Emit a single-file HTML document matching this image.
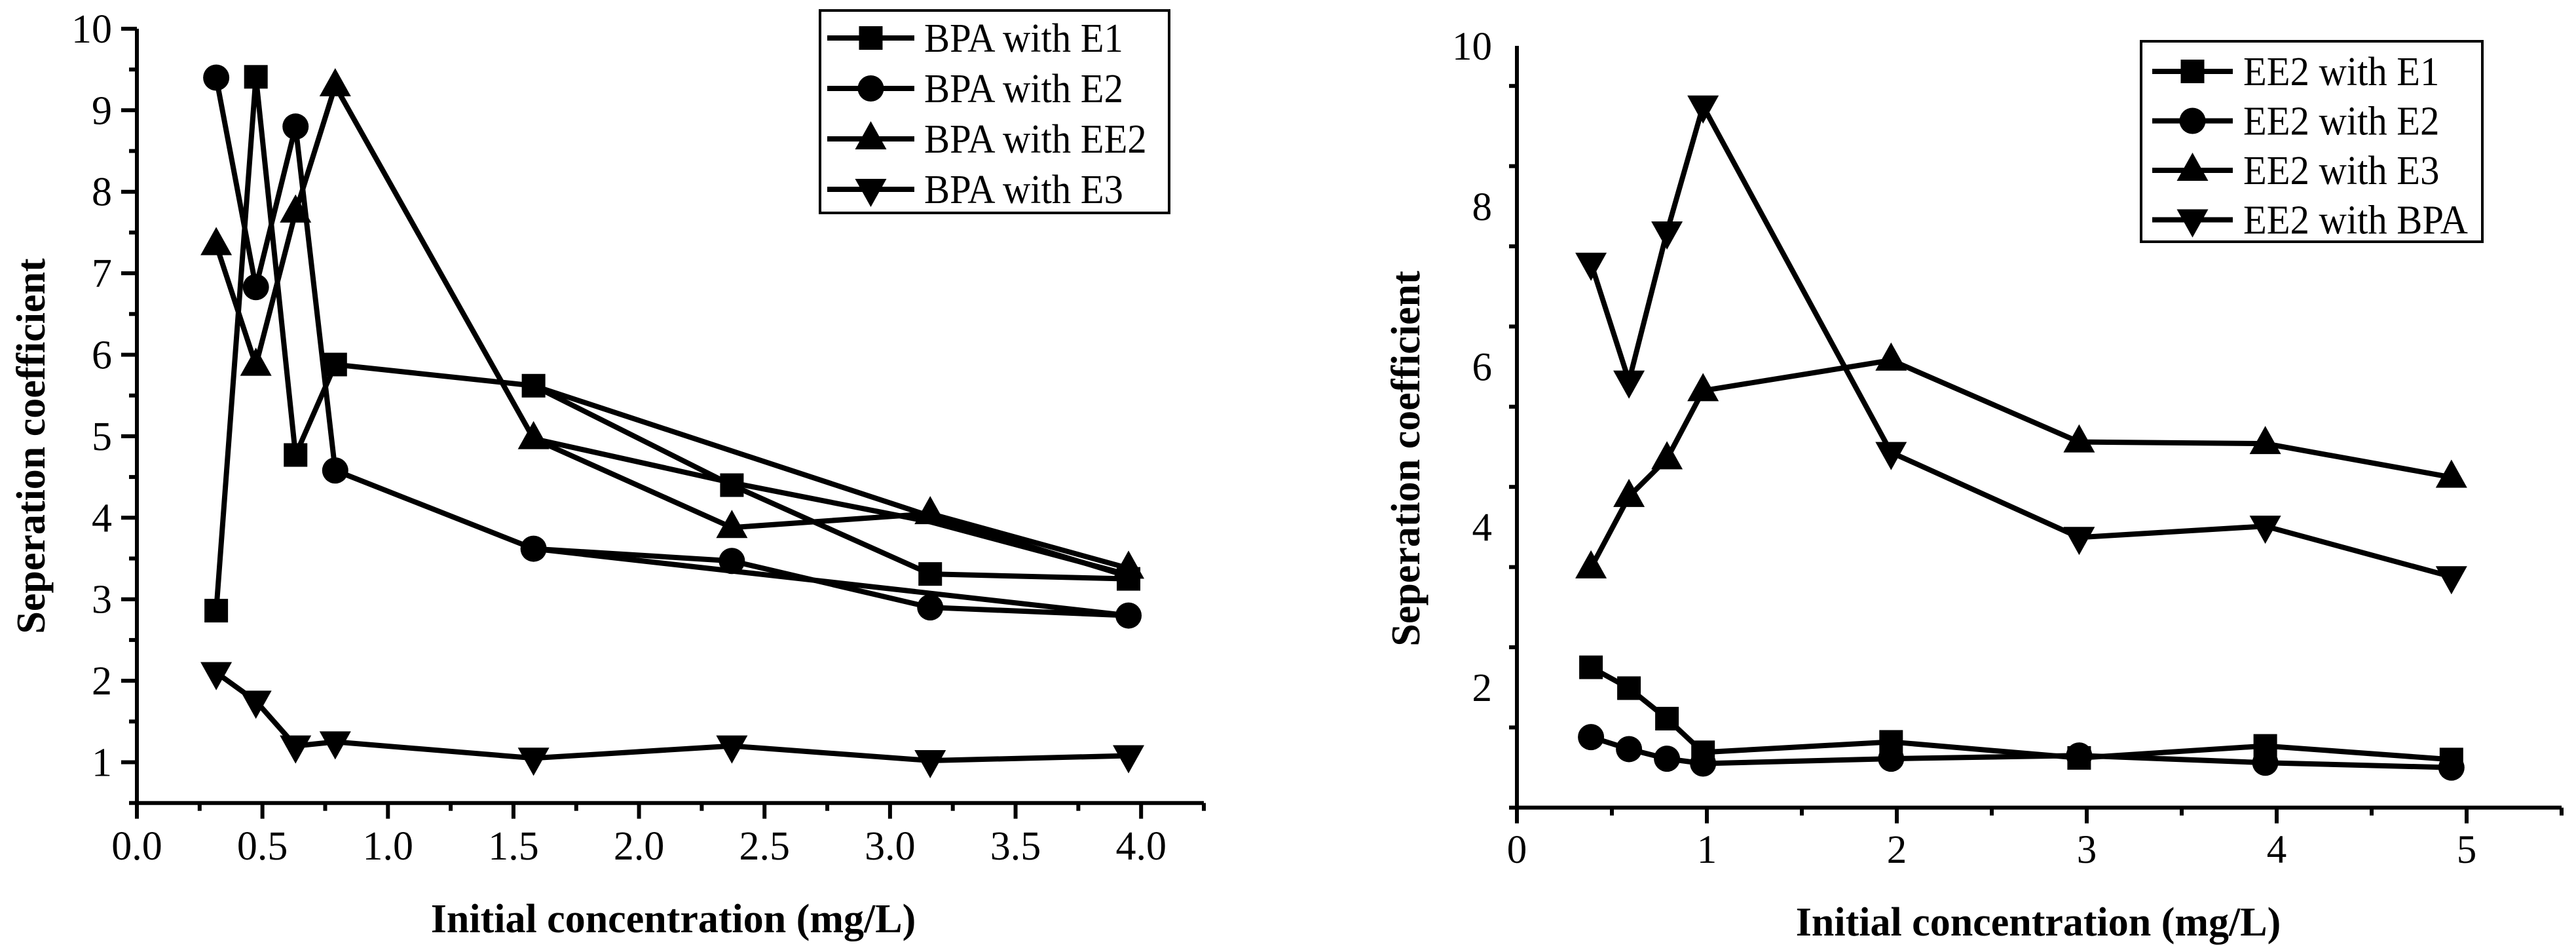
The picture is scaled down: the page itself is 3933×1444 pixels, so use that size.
<!DOCTYPE html>
<html><head><meta charset="utf-8">
<style>
html,body{margin:0;padding:0;background:#fff;}
svg{display:block;}
text{font-family:"Liberation Serif","DejaVu Serif",serif;fill:#000;}
</style></head>
<body>
<svg id="fig" width="3933" height="1444" viewBox="0 0 3933 1444" xmlns="http://www.w3.org/2000/svg">
<g id="left"></g>
<g id="right"></g>
</svg>
<script>
// ---- Left chart data (BPA) ----
const leftX = [0.316, 0.474, 0.632, 0.79, 1.58, 2.37, 3.16, 3.95];
const bpaE1 = [2.86, 9.41, 4.77, 5.88, 5.62, 4.40, 3.31, 3.25];
const bpaE2 = [9.40, 6.83, 8.80, 4.58, 3.62, 3.47, 2.90, 2.80];
const bpaEE2 = [7.35, 5.87, 7.75, 9.30, 4.97, 3.88, 4.05, 3.38];
const bpaE3 = [2.10, 1.75, 1.20, 1.25, 1.05, 1.20, 1.02, 1.08];
const ghost1X = [1.58, 3.16, 3.95];
const ghost1Y = [5.62, 4.02, 3.28];
const ghost2X = [1.58, 2.37, 3.16, 3.95];
const ghost2Y = [4.97, 4.43, 3.95, 3.30];
const ghost3X = [1.58, 3.95];
const ghost3Y = [3.62, 2.80];
const leftXTicks = ["0.0","0.5","1.0","1.5","2.0","2.5","3.0","3.5","4.0"];
const leftYTicks = ["1","2","3","4","5","6","7","8","9","10"];
const leftLegend = ["BPA with E1","BPA with E2","BPA with EE2","BPA with E3"];

// ---- Right chart data (EE2) ----
const rightX = [0.39, 0.59, 0.79, 0.98, 1.97, 2.96, 3.94, 4.92];
const ee2E1 = [2.25, 1.99, 1.61, 1.19, 1.32, 1.12, 1.27, 1.10];
const ee2E2 = [1.38, 1.23, 1.11, 1.05, 1.11, 1.15, 1.06, 1.00];
const ee2E3 = [3.49, 4.38, 4.85, 5.70, 6.08, 5.06, 5.04, 4.62];
const ee2BPA = [7.29, 5.82, 7.68, 9.25, 4.93, 3.87, 4.01, 3.38];
const rightXTicks = ["0","1","2","3","4","5"];
const rightYTicks = ["2","4","6","8","10"];
const rightLegend = ["EE2 with E1","EE2 with E2","EE2 with E3","EE2 with BPA"];

const NS = "http://www.w3.org/2000/svg";
function mk(parent, tag, attrs){
  const e = document.createElementNS(NS, tag);
  for (const k in attrs) e.setAttribute(k, attrs[k]);
  parent.appendChild(e);
  return e;
}
function marker(g, kind, cx, cy){
  let e;
  if (kind === "square") e = mk(g, "rect", {x:cx-18, y:cy-18, width:36, height:36, fill:"#000"});
  else if (kind === "circle") e = mk(g, "circle", {cx:cx, cy:cy, r:20, fill:"#000"});
  else if (kind === "up") e = mk(g, "polygon", {points:`${cx-24},${cy+16} ${cx+24},${cy+16} ${cx},${cy-27}`, fill:"#000"});
  else e = mk(g, "polygon", {points:`${cx-24},${cy-16} ${cx+24},${cy-16} ${cx},${cy+27}`, fill:"#000"});
  
  
  return e;
}

function drawChart(g, cfg){
  const sx = v => cfg.x0 + (v - 0) * cfg.pxX;
  const sy = v => cfg.yTop + (10 - v) * cfg.pxY;
  const yBot = sy(cfg.yMin);
  const ya = mk(g, "line", {x1:cfg.x0, y1:sy(10), x2:cfg.x0, y2:yBot+3, stroke:"#000", "stroke-width":6});
  
  
  const xa = mk(g, "line", {x1:cfg.x0-3, y1:yBot, x2:sx(cfg.xMax), y2:yBot, stroke:"#000", "stroke-width":6});
  
  
  for (let v = cfg.yMin; v <= 10.001; v += cfg.yMinorStep){
    const isMajor = Math.abs((v / cfg.yMajorStep) - Math.round(v / cfg.yMajorStep)) < 1e-6 && v >= cfg.yMajorStart - 1e-6;
    const len = isMajor ? 24 : 12;
    const t = mk(g, "line", {x1:cfg.x0-len, y1:sy(v), x2:cfg.x0, y2:sy(v), stroke:"#000", "stroke-width":6});
    
    
  }
  cfg.yTicks.forEach(lbl => {
    const v = parseFloat(lbl);
    const t = mk(g, "text", {x:cfg.yLabelRight, y:sy(v)+21, "font-size":cfg.fs, "text-anchor":"end"});
    t.textContent = lbl;
    
    
  });
  for (let v = 0; v <= cfg.xMax + 1e-6; v += cfg.xMinorStep){
    const isMajor = Math.abs(v / cfg.xMajorStep - Math.round(v / cfg.xMajorStep)) < 1e-6;
    const len = isMajor ? 24 : 12;
    const t = mk(g, "line", {x1:sx(v), y1:yBot, x2:sx(v), y2:yBot+len, stroke:"#000", "stroke-width":6});
    
    
  }
  cfg.xTicks.forEach(lbl => {
    const v = parseFloat(lbl);
    const t = mk(g, "text", {x:sx(v), y:cfg.xLabelBase, "font-size":cfg.fs, "text-anchor":"middle"});
    t.textContent = lbl;
    
    
  });
  const xt = mk(g, "text", {x:cfg.xTitleX, y:cfg.xTitleY, "font-size":62, "font-weight":"bold", "text-anchor":"middle"});
  xt.textContent = "Initial concentration (mg/L)";
  
  
  const yt = mk(g, "text", {x:0, y:0, "font-size":62, "font-weight":"bold", "text-anchor":"middle", transform:`translate(${cfg.yTitleX},${cfg.yTitleY}) rotate(-90)`});
  yt.textContent = "Seperation coefficient";
  
  
  (cfg.ghosts || []).forEach(gh => {
    const p = mk(g, "polyline", {points: gh[0].map((x,i)=>`${sx(x)},${sy(gh[1][i])}`).join(" "), fill:"none", stroke:"#000", "stroke-width":8, "stroke-linejoin":"round"});
    
    
  });
  cfg.series.forEach((s, si) => {
    const sg = mk(g, "g", {});
    
    
    const p = mk(sg, "polyline", {points: cfg.xs.map((x,i)=>`${sx(x)},${sy(s.ys[i])}`).join(" "), fill:"none", stroke:"#000", "stroke-width":8, "stroke-linejoin":"round"});
    
    
    cfg.xs.forEach((x,i) => marker(sg, s.kind, sx(x), sy(s.ys[i])));
  });
  const L = cfg.legend;
  const lg = mk(g, "g", {});
  
  
  const box = mk(lg, "rect", {x:L.x, y:L.y, width:L.w, height:L.h, fill:"#fff", stroke:"#000", "stroke-width":4});
  
  
  cfg.series.forEach((s, i) => {
    const cy = L.row0 + i * L.rowStep;
    const eg = mk(lg, "g", {});
    
    
    mk(eg, "line", {x1:L.lx1, y1:cy, x2:L.lx2, y2:cy, stroke:"#000", "stroke-width":8});
    marker(eg, s.kind, (L.lx1+L.lx2)/2, cy);
    const t = mk(eg, "text", {x:0, y:0, "font-size":63, transform:`translate(${L.tx},${cy+21}) scale(0.93,1)`});
    t.textContent = cfg.legendLabels[i];
    
    
  });
}

drawChart(document.getElementById("left"), {
  x0:209, pxX:383.3, yTop:43.9, pxY:124.4, yMin:0.5, xMax:4.25,
  yMinorStep:0.5, yMajorStep:1, yMajorStart:1, xMinorStep:0.25, xMajorStep:0.5,
  yTicks:leftYTicks, xTicks:leftXTicks, fs:62, yLabelRight:171, xLabelBase:1312,
  xTitleX:1028, xTitleY:1423, yTitleX:68, yTitleY:681,
  xs:leftX,
  series:[{name:"BPA with E1",ys:bpaE1,kind:"square"},{name:"BPA with E2",ys:bpaE2,kind:"circle"},{name:"BPA with EE2",ys:bpaEE2,kind:"up"},{name:"BPA with E3",ys:bpaE3,kind:"down"}],
  ghosts:[[ghost1X,ghost1Y],[ghost2X,ghost2Y],[ghost3X,ghost3Y]],
  legendLabels:leftLegend,
  legend:{x:1252,y:16,w:533,h:309,row0:58,rowStep:77,lx1:1263,lx2:1396,tx:1411}
});
drawChart(document.getElementById("right"), {
  x0:2316, pxX:290, yTop:70, pxY:122.4, yMin:0.5, xMax:5.5,
  yMinorStep:1, yMajorStep:2, yMajorStart:2, xMinorStep:0.5, xMajorStep:1,
  yTicks:rightYTicks, xTicks:rightXTicks, fs:61, yLabelRight:2278, xLabelBase:1317,
  xTitleX:3112, xTitleY:1428, yTitleX:2167, yTitleY:700,
  xs:rightX,
  series:[{name:"EE2 with E1",ys:ee2E1,kind:"square"},{name:"EE2 with E2",ys:ee2E2,kind:"circle"},{name:"EE2 with E3",ys:ee2E3,kind:"up"},{name:"EE2 with BPA",ys:ee2BPA,kind:"down"}],
  ghosts:[],
  legendLabels:rightLegend,
  legend:{x:3269,y:63,w:521,h:306,row0:109,rowStep:75.5,lx1:3286,lx2:3409,tx:3425}
});
</script>
</body></html>
